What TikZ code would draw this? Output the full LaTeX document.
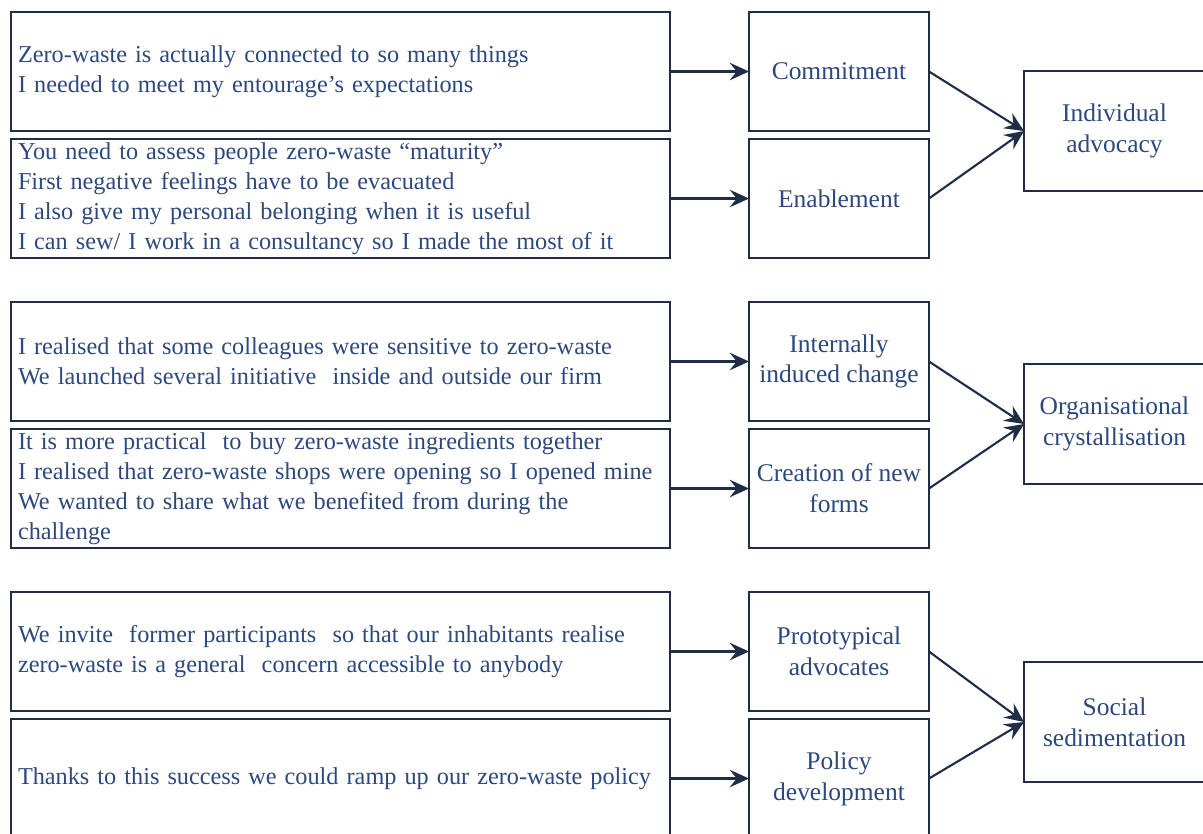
\documentclass[tikz,border=0pt]{standalone}
\usepackage{fontspec}
\setmainfont{Liberation Serif}
\usetikzlibrary{arrows.meta}
\definecolor{framecol}{RGB}{31,45,69}
\definecolor{textcol}{RGB}{44,72,124}

\begin{document}
\begin{tikzpicture}
      \newcommand{\quotewidth}[0]{13.18cm}
      \newcommand{\boxheight}[0]{2.38cm}
      \newcommand{\themewidth}[0]{3.6cm}
      \newcommand{\dimwidth}[0]{3.62cm}
      \newcommand{\spacing}[0]{0.16cm}
      \newcommand{\xspacing}[0]{1.58cm}
      \newcommand{\dimspacing}[0]{1.9cm}
      \newcommand{\rowspacing}[0]{0.88cm}
      
      \useasboundingbox (0,0) rectangle (24.06,-16.68);
      \coordinate (origo) at (0.22,-0.24);
      
      \tikzstyle{box}=[
        rectangle,
        draw=framecol,
        line width=1.1pt,
        outer sep=0pt,
        text=textcol,
        anchor=center,
        align=center,
        minimum height=\boxheight,
      ]
      \tikzstyle{quotebox} = [
        box,
        align=left,
        text width=12.9cm,
        inner xsep=0.14cm,
        inner ysep=0pt,
        font=\fontsize{13.8}{17}\selectfont,
      ]
      \tikzstyle{themebox} = [
        box,
        minimum width=\themewidth,
        inner sep=1pt,
        font=\fontsize{14.5}{17.5}\selectfont,
      ]
      \tikzstyle{dimbox} = [
        themebox,
        minimum width=\dimwidth,
        minimum height=2.4cm,
      ]
      \tikzstyle{link} = [
        line width=1.2pt,
        draw=framecol,
        -{Stealth[length=11pt,width=10pt,inset=4pt]},
      ]
      
      % first row: individual advocacy
      {
        \node[quotebox,anchor=north west] (qIa) at (origo)
          {Zero-waste is actually connected to so many things\\
           I needed to meet my entourage's expectations};
        \node[quotebox,anchor=north] (qIb) at ([yshift=-\spacing] qIa.south)
          {You need to assess people zero-waste ``maturity''\\
           First negative feelings have to be evacuated\\
           I also give my personal belonging when it is useful\\
           I can sew/ I work in a consultancy so I made the most of it};
        \node[themebox,anchor=west] (tIa) at ([xshift=\xspacing] qIa.east) {Commitment};
        \node[themebox,anchor=west] (tIb) at ([xshift=\xspacing] qIb.east) {Enablement};
        \node[dimbox,anchor=west] (dI)
          at ([xshift=\dimspacing] tIa.south east) {Individual\\advocacy};
        
        \draw[link] (qIa) -- (tIa);
        \draw[link] (qIb) -- (tIb);
        \draw[link] (tIa.east) -- (dI.west);
        \draw[link] (tIb.east) -- (dI.west);
      }
      
      % second row: organisational crystallisation
      {
        \node[quotebox,anchor=north] (qIIa) at ([yshift=-\rowspacing] qIb.south)
          {I realised that some colleagues were sensitive to zero-waste\\
           We launched several initiative\ \ inside and outside our firm};
        \node[quotebox,anchor=north] (qIIb) at ([yshift=-\spacing] qIIa.south)
          {It is more practical\ \ to buy zero-waste ingredients together\\
           I realised that zero-waste shops were opening so I opened mine\\
           We wanted to share what we benefited from during the\\
           challenge};
        \node[themebox,anchor=west] (tIIa) at ([xshift=\xspacing] qIIa.east) {Internally\\induced change};
        \node[themebox,anchor=west] (tIIb) at ([xshift=\xspacing] qIIb.east) {Creation of new\\forms};
        \node[dimbox,anchor=west] (dII)
          at ([xshift=\dimspacing, yshift=-0.06cm] tIIa.south east) {Organisational\\crystallisation};
        
        \draw[link] (qIIa) -- (tIIa);
        \draw[link] (qIIb) -- (tIIb);
        \draw[link] (tIIa.east) -- (dII.west);
        \draw[link] (tIIb.east) -- (dII.west);
      }
      
      % third row: social sedimentation
      {
        \node[quotebox,anchor=north] (qIIIa) at ([yshift=-\rowspacing] qIIb.south)
          {We invite\ \ former participants\ \ so that our inhabitants realise\\
           zero-waste is a general\ \ concern accessible to anybody};
        \node[quotebox,anchor=north] (qIIIb) at ([yshift=-\spacing] qIIIa.south)
          {Thanks to this success we could ramp up our zero-waste policy};
        \node[themebox,anchor=west] (tIIIa) at ([xshift=\xspacing] qIIIa.east) {Prototypical\\advocates};
        \node[themebox,anchor=west] (tIIIb) at ([xshift=\xspacing] qIIIb.east) {Policy\\development};
        \node[dimbox,anchor=west] (dIII)
          at ([xshift=\dimspacing, yshift=-0.22cm] tIIIa.south east) {Social\\sedimentation};
        
        \draw[link] (qIIIa) -- (tIIIa);
        \draw[link] (qIIIb) -- (tIIIb);
        \draw[link] (tIIIa.east) -- (dIII.west);
        \draw[link] (tIIIb.east) -- (dIII.west);
      }
\end{tikzpicture}
\end{document}
